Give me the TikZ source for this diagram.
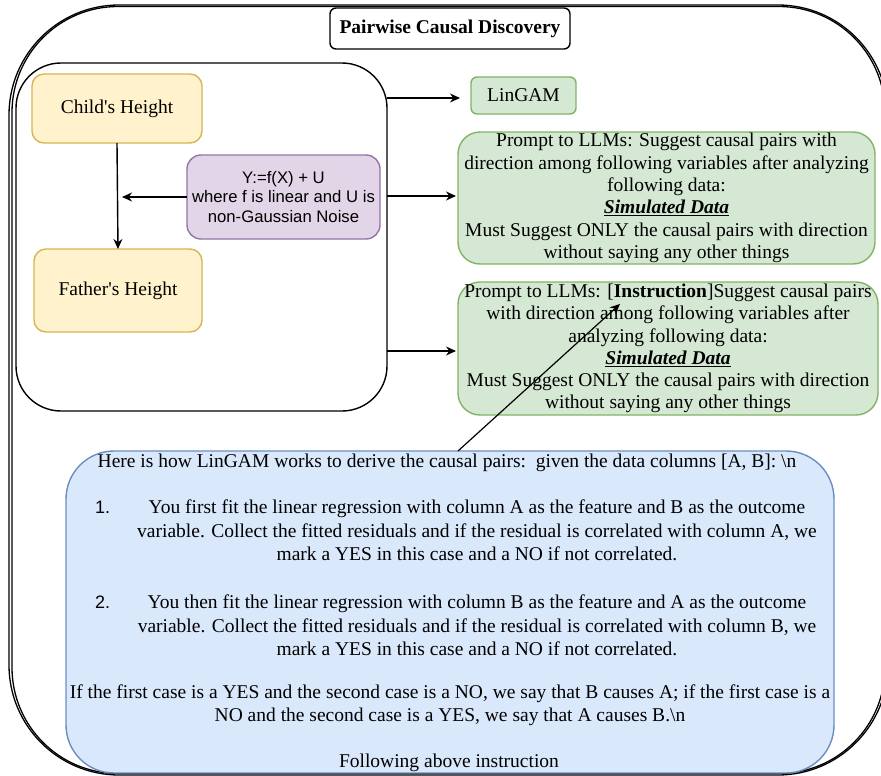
\documentclass[tikz,border=0pt]{standalone}
\usepackage{fontspec}
\setmainfont{Liberation Serif}
\newfontfamily\rawserif{Liberation Serif}
\newfontfamily\sansf{Liberation Sans}
\usetikzlibrary{arrows.meta}
\newcommand\myserif{\rawserif\fontsize{19.5}{22.3}\selectfont}
\newcommand\myblue{\rawserif\fontsize{19.5}{23.5}\selectfont}
\newcommand\mysans{\sansf\fontsize{16.7}{19.3}\selectfont}
\definecolor{yfill}{HTML}{FFF2CC}\definecolor{ydraw}{HTML}{D6B656}
\definecolor{pfill}{HTML}{E1D5E7}\definecolor{pdraw}{HTML}{9673A6}
\definecolor{gfill}{HTML}{D5E8D4}\definecolor{gdraw}{HTML}{82B366}
\definecolor{bfill}{HTML}{DAE8FC}\definecolor{bdraw}{HTML}{6C8EBF}
\begin{document}
\begin{tikzpicture}[x=1pt,y=-1pt,
  every node/.style={inner sep=0pt, outer sep=0pt},
  box/.style={draw, line width=1.4pt, align=center, font=\myserif},
  yel/.style={box, fill=yfill, draw=ydraw, rounded corners=12pt},
  grn/.style={box, fill=gfill, draw=gdraw},
  txt/.style={align=center, font=\myblue},
  num/.style={anchor=west, font=\sansf\fontsize{18}{20}\selectfont},
  arr/.style={line width=1.4pt, -{Stealth[length=10pt,width=9pt]}},
  frame/.style={draw=black, line width=1.3pt}]
\clip (0,0) rectangle (881,776);
% outer double frame
\draw[frame, rounded corners=110pt] (9,5) rectangle (888,775);
\draw[frame, rounded corners=106pt] (12,6.5) rectangle (885,773.5);
% title
\node[box, fill=white, draw=black, minimum width=240, minimum height=41, rounded corners=6pt, font=\myserif\bfseries] (title) at (450,28.5) {Pairwise Causal Discovery};
% inner box
\node[draw=black, line width=1.4pt, fill=white, minimum width=371, minimum height=348, rounded corners=45pt] (inner) at (201.5,237) {};
\node[yel, minimum width=170, minimum height=69] (child) at (117,108.5) {Child's Height};
\node[yel, minimum width=168, minimum height=83] (father) at (118,290.5) {Father's Height};
\node[box, fill=pfill, draw=pdraw, rounded corners=14pt, minimum width=193, minimum height=84, font=\mysans] (purple) at (283.5,197) {Y:=f(X) + U\\where f is linear and U is\\non-Gaussian Noise};
\coordinate (pt) at (122,197);
\draw[arr] (child.south) -- (father.north);
\draw[arr] (purple.west) -- (pt);
% right column
\node[grn, rounded corners=6pt, minimum width=105, minimum height=37] (lin) at (523.5,95.5) {LinGAM};
\node[grn, rounded corners=22pt, minimum width=417, minimum height=132] (p1) at (666.5,198) {Prompt to LLMs: Suggest causal pairs with\\direction among following variables after analyzing\\following data:\\\underline{\textbf{\textit{Simulated Data}}}\\Must Suggest ONLY the causal pairs with direction\\without saying any other things};
\node[grn, rounded corners=22pt, minimum width=420, minimum height=133] (p2) at (668,348.5) {Prompt to LLMs: [\textbf{Instruction}]Suggest causal pairs\\with direction among following variables after\\analyzing following data:\\\underline{\textbf{\textit{Simulated Data}}}\\Must Suggest ONLY the causal pairs with direction\\without saying any other things};
\coordinate (a1) at (460,98);
\coordinate (a2) at (456,196);
\coordinate (a3) at (456,351);
\draw[arr] (inner.east |- a1) -- (a1);
\draw[arr] (inner.east |- a2) -- (a2);
\draw[arr] (inner.east |- a3) -- (a3);
% blue box
\node[draw=bdraw, fill=bfill, line width=1.4pt, rounded corners=48pt, minimum width=768, minimum height=322] (blue) at (450,612) {};
\node[txt] (b1) at (447,463) {Here is how LinGAM works to derive the causal pairs:\ \ given the data columns [A, B]: \textbackslash n};
\node[num] (n1) at (95,507) {1.};
\node[txt] (it1) at (477,530.5) {You first fit the linear regression with column A as the feature and B as the outcome\\variable. Collect the fitted residuals and if the residual is correlated with column A, we\\mark a YES in this case and a NO if not correlated.};
\node[num] (n2) at (95,602) {2.};
\node[txt] (it2) at (477,625.5) {You then fit the linear regression with column B as the feature and A as the outcome\\variable. Collect the fitted residuals and if the residual is correlated with column B, we\\mark a YES in this case and a NO if not correlated.};
\node[txt] (para) at (450,705) {If the first case is a YES and the second case is a NO, we say that B causes A; if the first case is a\\NO and the second case is a YES, we say that A causes B.\textbackslash n};
\node[txt] (fol) at (449,763) {Following above instruction};
\coordinate (tipI) at (620,304);
\draw[line width=1.2pt, -{Stealth[length=10pt,width=9pt]}] ([xshift=8pt]blue.north) -- (tipI);
\end{tikzpicture}
\end{document}
